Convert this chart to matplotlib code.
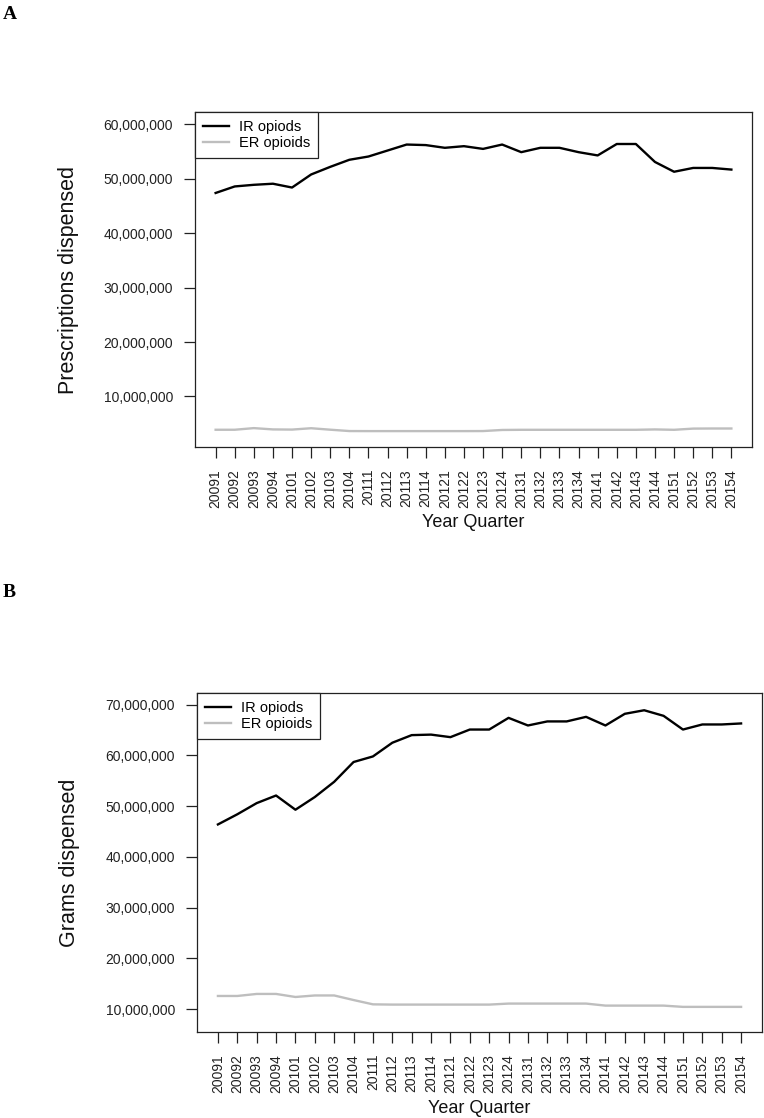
"""Opioid dispensing by year quarter, panels A and B."""

import matplotlib
matplotlib.use('Agg')
import matplotlib.pyplot as plt
from matplotlib.ticker import FuncFormatter

quarters = [
    '20091', '20092', '20093', '20094', '20101', '20102', '20103', '20104',
    '20111', '20112', '20113', '20114', '20121', '20122', '20123', '20124',
    '20131', '20132', '20133', '20134', '20141', '20142', '20143', '20144',
    '20151', '20152', '20153', '20154',
]

# panel A - prescriptions dispensed
rx_ir = [
    47.4e6, 48.6e6, 48.9e6, 49.1e6, 48.4e6, 50.8e6, 52.2e6, 53.5e6,
    54.1e6, 55.2e6, 56.3e6, 56.2e6, 55.7e6, 56.0e6, 55.5e6, 56.3e6,
    54.9e6, 55.7e6, 55.7e6, 54.9e6, 54.3e6, 56.4e6, 56.4e6, 53.1e6,
    51.3e6, 52.0e6, 52.0e6, 51.7e6,
]
rx_er = [
    3.89e6, 3.89e6, 4.19e6, 3.95e6, 3.92e6, 4.17e6, 3.90e6, 3.65e6,
    3.64e6, 3.64e6, 3.64e6, 3.64e6, 3.64e6, 3.64e6, 3.65e6, 3.85e6,
    3.88e6, 3.88e6, 3.88e6, 3.88e6, 3.88e6, 3.88e6, 3.88e6, 3.95e6,
    3.88e6, 4.10e6, 4.12e6, 4.12e6,
]

# panel B - grams dispensed
gr_ir = [
    46.4e6, 48.4e6, 50.6e6, 52.1e6, 49.3e6, 51.8e6, 54.8e6, 58.7e6,
    59.8e6, 62.5e6, 64.0e6, 64.1e6, 63.6e6, 65.1e6, 65.1e6, 67.4e6,
    65.9e6, 66.7e6, 66.7e6, 67.6e6, 65.9e6, 68.2e6, 68.9e6, 67.8e6,
    65.1e6, 66.1e6, 66.1e6, 66.3e6,
]
gr_er = [
    12.6e6, 12.6e6, 13.0e6, 13.0e6, 12.4e6, 12.7e6, 12.7e6, 11.8e6,
    10.95e6, 10.9e6, 10.9e6, 10.9e6, 10.9e6, 10.9e6, 10.9e6, 11.1e6,
    11.1e6, 11.1e6, 11.1e6, 11.1e6, 10.7e6, 10.7e6, 10.7e6, 10.7e6,
    10.45e6, 10.45e6, 10.45e6, 10.45e6,
]

plt.rcParams['font.family'] = ['Liberation Sans', 'DejaVu Sans']

W, H = 764, 1118
fig = plt.figure(figsize=(W / 100, H / 100), dpi=100)


def _box(px_left, px_top, px_right, px_bottom):
    return [px_left / W, 1 - px_bottom / H,
            (px_right - px_left) / W, (px_bottom - px_top) / H]


def draw_panel(rect, ir, er, ylabel, yticks, ylim, ylab_x):
    ax = fig.add_axes(rect)
    x = list(range(len(quarters)))
    ax.plot(x, ir, color='black', lw=1.7, label='IR opiods')
    ax.plot(x, er, color='#bebebe', lw=1.7, label='ER opioids')

    ax.set_xlim(-1.08, len(quarters) - 1 + 1.08)
    ax.set_ylim(*ylim)
    ax.set_xticks(x)
    ax.set_xticklabels(quarters, rotation=90)
    ax.set_yticks(yticks)
    ax.yaxis.set_major_formatter(FuncFormatter(lambda v, _: f'{v:,.0f}'))
    ax.tick_params(axis='both', length=7.8, width=0.9, labelsize=10,
                   colors='#222222')
    ax.tick_params(axis='y', pad=8)
    ax.tick_params(axis='x', pad=8)
    for sp in ax.spines.values():
        sp.set_color('#222222')
        sp.set_linewidth(0.9)

    ax.set_ylabel(ylabel, fontsize=15.5, color='#111111',
                  ha='center', va='center')
    ax.yaxis.set_label_coords(ylab_x, 0.5)
    ax.set_xlabel('Year Quarter', fontsize=13, color='#111111', va='center')
    ax.xaxis.set_label_coords(0.5, -0.226)

    leg = ax.legend(loc='upper left', bbox_to_anchor=(0, 1), borderaxespad=0,
                    fontsize=10.5, frameon=True, fancybox=False, framealpha=1,
                    edgecolor='#222222', handlelength=1.75, handletextpad=0.7,
                    borderpad=0.55, labelspacing=0.12)
    leg.get_frame().set_linewidth(0.9)
    return ax


draw_panel(_box(195, 112, 752, 447), rx_ir, rx_er, 'Prescriptions dispensed',
           [10e6, 20e6, 30e6, 40e6, 50e6, 60e6], (0.72e6, 62.28e6), -0.228)
draw_panel(_box(197, 693, 762, 1032), gr_ir, gr_er, 'Grams dispensed',
           [10e6, 20e6, 30e6, 40e6, 50e6, 60e6, 70e6], (5.5e6, 72.3e6), -0.2265)

for letter, py in (('A', 6), ('B', 584)):
    fig.text(3 / W, 1 - py / H, letter, fontsize=14, fontweight='bold',
             family='Liberation Serif', ha='left', va='top')

fig.savefig('out.png', dpi=100)
plt.close(fig)
